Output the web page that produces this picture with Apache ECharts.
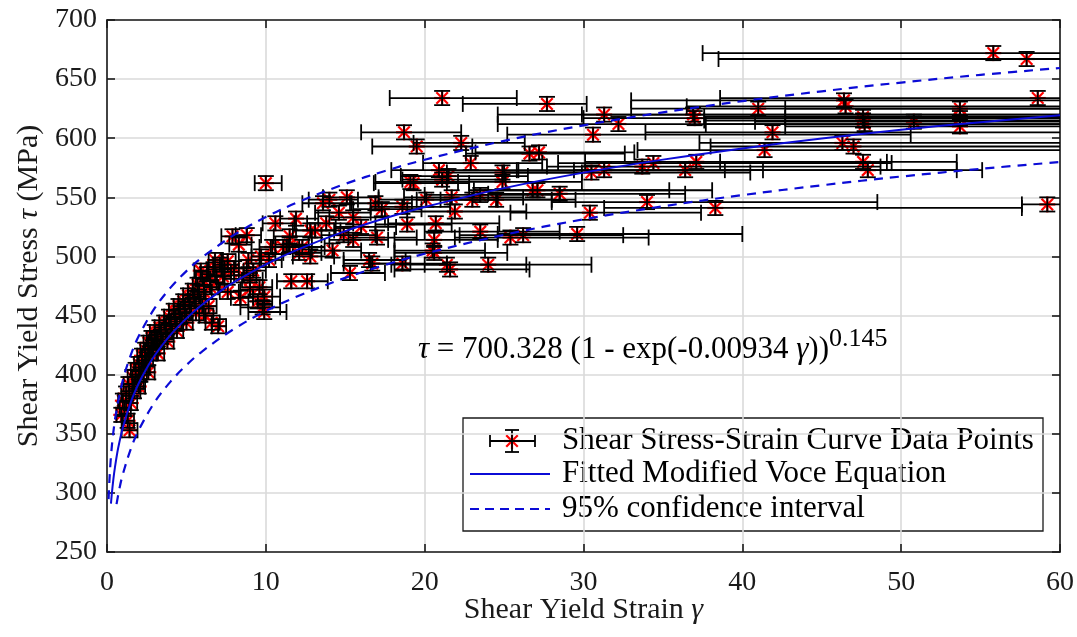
<!DOCTYPE html>
<html><head><meta charset="utf-8">
<script src="https://cdn.jsdelivr.net/npm/echarts@6/dist/echarts.min.js"></script>
<style>html,body{margin:0;padding:0;background:#fff}#c{width:1077px;height:637px}</style>
</head><body><div id="c"></div>
<script>
// ---------- DATA ----------
const xTicks = [0, 10, 20, 30, 40, 50, 60];
const yTicks = [250, 300, 350, 400, 450, 500, 550, 600, 650, 700];
const stressErr = 6; // vertical error half-length (MPa)

// [strain, stress, strain error left, strain error right]
const clusterPoints = [
[0.9,366,0.3,0.4],[1.0,378,0.3,0.4],[1.1,371,0.3,0.4],[1.2,384,0.3,0.4],[1.3,361,0.3,0.4],[1.42,353,0.5,0.5],
[1.35,392,0.3,0.4],[1.5,376,0.3,0.4],[1.6,398,0.3,0.4],[1.7,386,0.3,0.4],[1.8,404,0.3,0.4],[1.9,394,0.3,0.4],
[2.0,409,0.3,0.4],[2.1,400,0.3,0.4],[2.2,416,0.3,0.4],[2.3,406,0.3,0.4],[2.4,421,0.3,0.4],[2.5,413,0.3,0.4],
[2.6,427,0.3,0.4],[2.7,418,0.3,0.4],[2.8,431,0.3,0.4],[2.9,423,0.3,0.4],[3.0,436,0.3,0.4],[3.1,428,0.3,0.4],
[3.3,440,0.3,0.4],[3.4,432,0.3,0.4],[3.6,444,0.3,0.4],[3.7,436,0.3,0.4],[3.9,449,0.3,0.4],[4.0,441,0.3,0.4],
[4.2,454,0.3,0.4],[4.3,445,0.3,0.4],[4.5,458,0.3,0.4],[4.6,449,0.3,0.4],[4.8,462,0.3,0.4],[4.9,453,0.3,0.4],
[5.1,467,0.3,0.4],[5.2,458,0.3,0.4],[5.4,471,0.3,0.4],[5.5,462,0.3,0.4],[5.7,476,0.3,0.4],[5.8,466,0.3,0.4],
[6.0,481,0.4,0.5],[6.1,470,0.4,0.5],[6.3,485,0.4,0.5],[6.5,474,0.4,0.5],[6.7,489,0.4,0.5],[6.9,478,0.4,0.5],
[7.1,493,0.4,0.5],[7.3,483,0.4,0.5],[7.6,496,0.4,0.5],[7.8,487,0.4,0.5],[6.2,450,0.4,0.5],[6.6,444,0.4,0.5],
[7.0,441,0.4,0.5],[6.4,458,0.4,0.5],[5.6,452,0.4,0.5],[2.0,390,0.3,0.4],[2.6,402,0.3,0.4],[3.2,418,0.3,0.4],
[3.8,428,0.3,0.4],[4.4,437,0.3,0.4],[5.0,444,0.3,0.4],[5.9,488,0.4,0.5],[6.8,497,0.4,0.5]
];
const midPoints = [
[7.9,517,0.7,0.9],[8.8,518,0.7,0.9],[8.3,510,0.6,0.8],[8.0,490,0.6,0.8],[8.6,484,0.6,0.8],[9.2,488,0.6,0.8],
[9.0,472,0.6,0.8],[8.4,465,0.6,0.8],[9.5,462,0.6,0.9],[7.6,470,0.5,0.7],[8.9,497,0.6,0.8],[9.7,500,0.6,0.9],
[9.0,480,0.5,0.8],[9.6,474,0.6,0.8],[9.9,466,0.7,1.0],[9.8,457,1.4,1.1],[9.9,453,1.0,1.4],[10.0,562,0.7,1.0],
[10.2,497,0.6,0.8],[10.4,508,0.8,1.0],[11.1,508,0.8,1.0],[10.6,528,0.8,1.2],[11.5,517,1.0,1.4],[11.5,510,0.9,1.2],
[11.9,532,1.0,1.4],[12.1,503,1.0,1.4],[12.3,508,1.0,1.4],[12.8,500,1.1,1.5],[11.6,479,0.9,1.3],[12.6,479,1.0,1.3],
[12.8,522,1.1,1.5],[13.1,522,1.2,1.6],[13.8,528,1.2,1.7],[13.6,545,1.3,1.8],[14.0,548,1.3,1.8],[14.2,505,1.3,1.8],
[14.6,537,1.5,2.0],[14.9,518,1.4,2.0],[15.1,550,1.5,2.0],[15.5,533,1.5,2.0],[15.5,514,1.5,2.2],[15.3,486,1.2,2.2],
[16.0,525,1.6,2.2],[16.5,497,1.6,2.3],[16.9,545,1.6,2.3],[16.7,494,1.8,2.4],[17.0,516,1.8,2.5],[17.3,540,1.8,2.5],
[18.6,494,2.0,2.8],[18.7,605,2.7,3.6],[19.1,563,2.2,3.0],[19.5,593,2.8,3.5],[18.6,542,2.0,3.0],[18.9,527,2.0,2.8],
[19.3,562,2.5,3.5]
];
const upperPoints = [
[20.1,548,3,4.5],[20.5,505,2.4,3.3],[20.6,514,2.5,4],[20.6,503,2.5,4.6],[20.7,528,3,4],[20.9,573,3,5],
[21.1,634,3.3,4.7],[21.1,565,2.5,4],[21.4,493,3.5,5],[21.5,568,3,5],[21.6,489,3.5,5],[21.7,550,3,4.5],
[21.9,538,3,4.5],[22.3,596,3,4],[22.9,579,3,4.5],[23.0,548,3.5,5],[23.5,552,3.5,5],[23.5,521,3.5,5],
[24.0,493,4,6.5],[24.5,548,3.5,5],[24.9,571,3.5,5],[24.9,563,3.5,5],[25.4,516,3.5,8.7],[26.2,518,4,6.3],
[26.6,587,4,6],[26.8,556,4,8.6],[27.1,556,4,11],[27.2,588,4,6],[27.7,629,5.3,2.5],[28.5,553,4.5,7.9],
[29.6,519,5,10.4],[30.4,537,5,7],[30.5,571,5.5,10],[30.6,603,5.4,20],[31.3,620,6.7,30],[31.3,573,5.5,10],
[32.2,612,7.6,30],[33.7,576,6,15],[34.0,546,6,14.5],[34.4,579,6,15]
];
const farPoints = [
[36.4,573,7,18.7],[37.1,580,7,16.4],[36.9,620,7,25],[37.0,617,7,25],[38.3,541,7,19.3],
[41.0,625,8,22],[41.9,605,8,20],[41.4,590,8,20],[46.4,632,13.4,20],[46.5,627,10,20],
[46.3,596,9,20],[47.0,593,9,20],[47.6,618,10,20],[47.6,615,10,20],[47.7,612,10,20],
[47.6,580,9,1.5],[47.9,573,9,5.6],[50.8,614,10,20],[53.7,625,11,20],[53.7,617,11,20],
[53.7,610,11,20],[55.8,672,18.3,20],[57.9,667,19.4,20],[58.6,634,20,20],[59.2,544,1.6,5]
];

// fitted modified Voce curve [strain, stress]
const fitCurve = [
[0.25,290.9],[0.3,298.7],[0.4,311.4],[0.5,321.5],[0.7,337.7],[1,355.4],[1.5,376.8],[2,392.7],[2.5,405.5],
[3,416.2],[4,433.6],[5,447.6],[6,459.3],[7,469.4],[8,478.2],[10,493.3],[12,505.8],[15,521.4],[17.5,532.3],
[20,541.8],[25,557.8],[30,570.9],[35,581.9],[40,591.4],[45,599.7],[50,607.1],[55,613.6],[60,619.4]
];
const upperBand = [
[0.1,294.7],[0.15,310],[0.25,330.9],[0.4,351.4],[0.6,370],[1,395.4],[1.5,416.8],[2,432.7],[3,456.2],
[4,473.6],[5,487.6],[6,499.3],[8,518.2],[10,533.3],[12,545.8],[15,561.4],[17.5,572.3],[20,581.8],[25,597.8],
[30,610.9],[35,621.9],[40,631.4],[45,639.7],[50,647.1],[55,653.6],[60,659.4]
];
const lowerBand = [
[0.6,290.5],[0.8,304.8],[1,315.9],[1.5,337.3],[2,353.2],[3,376.7],[4,394.1],[5,408.1],[6,419.8],[8,438.7],
[10,453.8],[12,466.3],[15,481.9],[17.5,492.8],[20,502.3],[25,518.3],[30,531.4],[35,542.4],[40,551.9],
[45,560.2],[50,567.6],[55,574.1],[60,579.9]
];
const legendLabels = ['Shear Stress-Strain Curve Data Points', 'Fitted Modified Voce Equation', '95% confidence interval'];

// ---------- CHART ----------
const FONT = 'Liberation Serif';
const BLUE = '#0b0bd6';
const RED = '#ff0000';
const allPoints = clusterPoints.concat(midPoints, upperPoints, farPoints);

function starLines(cx, cy, r, color, lw) {
  const d = r * 0.72;
  const st = {stroke: color, lineWidth: lw};
  return [
    {type: 'line', shape: {x1: cx - r, y1: cy, x2: cx + r, y2: cy}, style: st},
    {type: 'line', shape: {x1: cx, y1: cy - r, x2: cx, y2: cy + r}, style: st},
    {type: 'line', shape: {x1: cx - d, y1: cy - d, x2: cx + d, y2: cy + d}, style: st},
    {type: 'line', shape: {x1: cx - d, y1: cy + d, x2: cx + d, y2: cy - d}, style: st}
  ];
}

function renderStar(params, api) {
  const c = api.coord([api.value(0), api.value(1)]);
  return {type: 'group', children: starLines(c[0], c[1], 8, RED, 2.2)};
}

function renderBars(params, api) {
  const g = api.value(0), t = api.value(1), lo = api.value(2), hi = api.value(3);
  const cs = params.coordSys;
  const x0 = cs.x, x1 = cs.x + cs.width;
  const c = api.coord([g, t]);
  const l = api.coord([g - lo, t]);
  const r = api.coord([g + hi, t]);
  const top = api.coord([g, t + stressErr]);
  const bot = api.coord([g, t - stressErr]);
  const st = {stroke: '#000', lineWidth: 1.8};
  const cap = 8;
  const ch = [];
  ch.push({type: 'line', shape: {x1: Math.max(l[0], x0), y1: c[1], x2: Math.min(r[0], x1), y2: c[1]}, style: st});
  if (l[0] >= x0 - 0.5) ch.push({type: 'line', shape: {x1: l[0], y1: c[1] - cap, x2: l[0], y2: c[1] + cap}, style: st});
  if (r[0] <= x1 + 0.5) ch.push({type: 'line', shape: {x1: r[0], y1: c[1] - cap, x2: r[0], y2: c[1] + cap}, style: st});
  ch.push({type: 'line', shape: {x1: c[0], y1: top[1], x2: c[0], y2: bot[1]}, style: st});
  ch.push({type: 'line', shape: {x1: c[0] - cap, y1: top[1], x2: c[0] + cap, y2: top[1]}, style: st});
  ch.push({type: 'line', shape: {x1: c[0] - cap, y1: bot[1], x2: c[0] + cap, y2: bot[1]}, style: st});
  return {type: 'group', children: ch};
}

const chart = echarts.init(document.getElementById('c'), null, {renderer: 'canvas'});
const axisLineStyle = {color: '#1a1a1a', width: 1.6};
const labelStyle = {fontFamily: FONT, fontSize: 28, color: '#1a1a1a'};

// legend (drawn as graphic)
const LX = 463, LY = 418, LW = 580, LH = 113;
const rowY = [441, 474, 509];
const legendChildren = [
  {type: 'rect', shape: {x: LX, y: LY, width: LW, height: LH}, style: {fill: '#fff', stroke: '#1a1a1a', lineWidth: 1.3}},
];
legendChildren.push(...starLines(512, rowY[0], 8, RED, 2.2));
const ist = {stroke: '#000', lineWidth: 1.8};
legendChildren.push(
  {type: 'line', shape: {x1: 490, y1: rowY[0], x2: 535, y2: rowY[0]}, style: ist},
  {type: 'line', shape: {x1: 490, y1: rowY[0] - 6, x2: 490, y2: rowY[0] + 6}, style: ist},
  {type: 'line', shape: {x1: 535, y1: rowY[0] - 6, x2: 535, y2: rowY[0] + 6}, style: ist},
  {type: 'line', shape: {x1: 512, y1: rowY[0] - 11, x2: 512, y2: rowY[0] + 11}, style: ist},
  {type: 'line', shape: {x1: 505, y1: rowY[0] - 11, x2: 519, y2: rowY[0] - 11}, style: ist},
  {type: 'line', shape: {x1: 505, y1: rowY[0] + 11, x2: 519, y2: rowY[0] + 11}, style: ist},
  {type: 'line', shape: {x1: 470, y1: rowY[1], x2: 550, y2: rowY[1]}, style: {stroke: BLUE, lineWidth: 2}},
  {type: 'line', shape: {x1: 470, y1: rowY[2], x2: 550, y2: rowY[2]}, style: {stroke: BLUE, lineWidth: 2, lineDash: [9, 6]}}
);
legendLabels.forEach((t, i) => legendChildren.push({
  type: 'text', x: 562, y: rowY[i],
  style: {text: t, fontFamily: FONT, fontSize: 31, fill: '#000', verticalAlign: 'middle', align: 'left'}
}));

chart.setOption({
  animation: false,
  backgroundColor: '#fff',
  grid: {left: 107, right: 17, top: 20, bottom: 85, outerBoundsMode: 'none', containLabel: false},
  xAxis: [{
    type: 'value', min: xTicks[0], max: xTicks[xTicks.length - 1], interval: 10, position: 'bottom',
    axisLine: {show: true, onZero: false, lineStyle: axisLineStyle},
    axisTick: {show: true, inside: true, length: 8, lineStyle: axisLineStyle},
    axisLabel: Object.assign({margin: 17, showMinLabel: true, showMaxLabel: true}, labelStyle),
    splitLine: {show: true, lineStyle: {color: '#dadada', width: 1.6}},
    name: 'Shear Yield Strain {i|γ}', nameLocation: 'middle', nameGap: 43, nameMoveOverlap: false,
    nameTextStyle: {fontFamily: FONT, fontSize: 30, color: '#1a1a1a', verticalAlign: 'top',
      rich: {i: {fontFamily: FONT, fontSize: 30, fontStyle: 'italic', color: '#1a1a1a'}}}
  }, {
    type: 'value', min: xTicks[0], max: xTicks[xTicks.length - 1], interval: 10, position: 'top',
    axisLine: {show: true, onZero: false, lineStyle: axisLineStyle},
    axisTick: {show: true, inside: true, length: 8, lineStyle: axisLineStyle},
    axisLabel: {show: false}, splitLine: {show: false}
  }],
  yAxis: [{
    type: 'value', min: yTicks[0], max: yTicks[yTicks.length - 1], interval: 50, position: 'left',
    axisLine: {show: true, onZero: false, lineStyle: axisLineStyle},
    axisTick: {show: true, inside: true, length: 8, lineStyle: axisLineStyle},
    axisLabel: Object.assign({margin: 10, showMinLabel: true, showMaxLabel: true}, labelStyle),
    splitLine: {show: true, lineStyle: {color: '#dadada', width: 1.6}},
    name: 'Shear Yield Stress {i|τ} (MPa)', nameLocation: 'middle', nameGap: 62,
    nameTextStyle: {fontFamily: FONT, fontSize: 30, color: '#1a1a1a',
      rich: {i: {fontFamily: FONT, fontSize: 30, fontStyle: 'italic', color: '#1a1a1a'}}}
  }, {
    type: 'value', min: yTicks[0], max: yTicks[yTicks.length - 1], interval: 50, position: 'right',
    axisLine: {show: true, onZero: false, lineStyle: axisLineStyle},
    axisTick: {show: true, inside: true, length: 8, lineStyle: axisLineStyle},
    axisLabel: {show: false}, splitLine: {show: false}
  }],
  series: [
    {type: 'custom', name: 'stars', data: allPoints, renderItem: renderStar, encode: {x: 0, y: 1}, z: 2, silent: true},
    {type: 'custom', name: 'bars', data: allPoints, renderItem: renderBars, encode: {x: 0, y: 1}, z: 3, silent: true},
    {type: 'line', name: 'fit', data: fitCurve, smooth: 0.35, showSymbol: false, symbol: 'none',
     lineStyle: {color: BLUE, width: 2}, z: 5, silent: true, clip: true},
    {type: 'line', name: 'upper', data: upperBand, smooth: 0.35, showSymbol: false, symbol: 'none',
     lineStyle: {color: BLUE, width: 2.2, type: [9, 7]}, z: 5, silent: true, clip: true},
    {type: 'line', name: 'lower', data: lowerBand, smooth: 0.35, showSymbol: false, symbol: 'none',
     lineStyle: {color: BLUE, width: 2.2, type: [9, 7]}, z: 5, silent: true, clip: true}
  ],
  graphic: [
    {type: 'text', x: 418, y: 350, z: 10,
     style: {
       text: '{i|τ}{n| = 700.328 (1 - exp(-0.00934 }{i|γ}{n|))}{s|0.145}',
       verticalAlign: 'middle', align: 'left',
       rich: {
         n: {fontFamily: FONT, fontSize: 31, lineHeight: 48, fill: '#000'},
         i: {fontFamily: FONT, fontSize: 31, lineHeight: 48, fontStyle: 'italic', fill: '#000'},
         s: {fontFamily: FONT, fontSize: 26, lineHeight: 26, verticalAlign: 'top', fill: '#000'}
       }
     }},
    {type: 'group', z: 20, children: legendChildren}
  ]
});
</script>
</body></html>
